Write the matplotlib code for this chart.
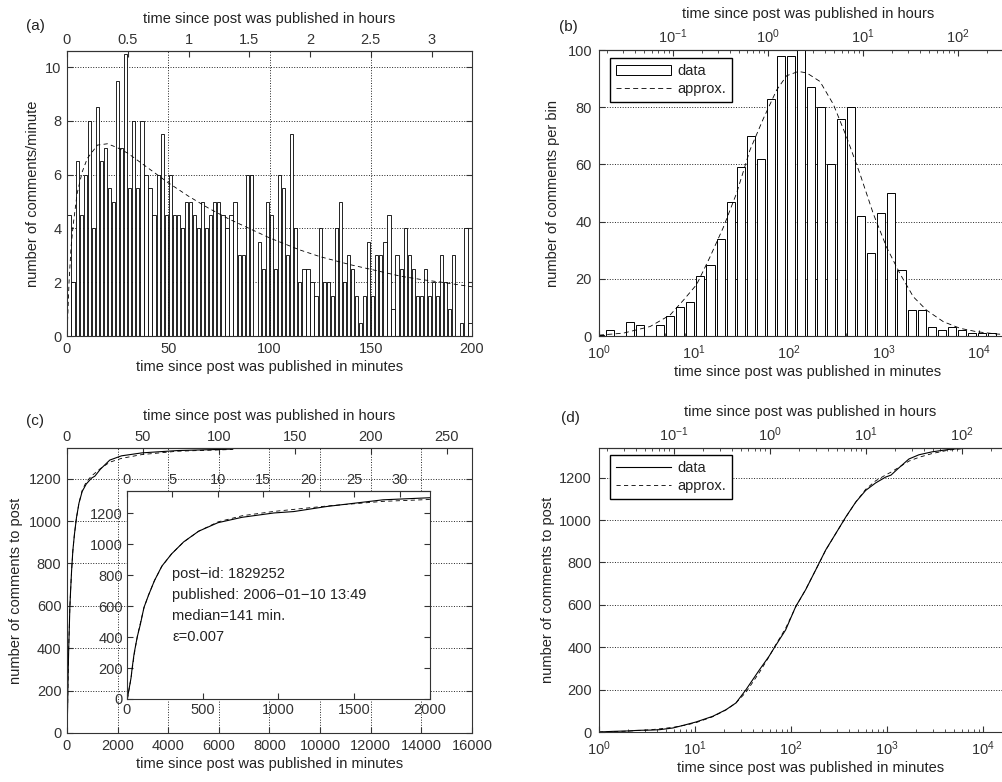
import numpy as np
import matplotlib.pyplot as plt
from matplotlib.patches import Patch
from matplotlib.lines import Line2D
from matplotlib.ticker import LogLocator, NullFormatter

plt.rcParams['font.family'] = ['Liberation Sans', 'DejaVu Sans']
plt.rcParams['font.size'] = 10.5
plt.rcParams['text.color'] = '#222222'
plt.rcParams['axes.labelcolor'] = '#222222'
plt.rcParams['xtick.color'] = '#333333'
plt.rcParams['ytick.color'] = '#333333'

# (a) comments per minute, 2-minute bins over the first 200 minutes
bin_minutes = 2
rate_per_min = [
    4.5, 2, 6.5, 4.5, 6, 8, 4, 8.5, 6.5, 7,
    5.5, 5, 9.5, 7, 10.5, 5.5, 8, 5.5, 8, 6,
    5.5, 4.5, 6, 7.5, 4.5, 6, 4.5, 4.5, 4, 5,
    5, 4.5, 4, 5, 4, 4.5, 5, 5, 4.5, 4,
    4.5, 5, 3, 3, 6, 6, 0, 3.5, 2.5, 5,
    4.5, 2.5, 6, 5.5, 3, 7.5, 4, 2, 2.5, 2.5,
    2, 1.5, 4, 2, 2, 1.5, 4, 5, 2, 3,
    2.5, 1.5, 0.5, 1.5, 3.5, 1.5, 3, 3, 3.5, 4.5,
    1, 3, 2.5, 4, 3, 2.5, 1.5, 1.5, 2.5, 1.5,
    2, 1.5, 3, 2, 1, 3, 0, 0.5, 4, 0.5,
]
approx_a_minutes = [0, 1, 2, 3, 5, 7.5, 10, 15, 20, 25, 30, 40, 50, 60, 70,
                    80, 90, 100, 115, 125, 140, 150, 165, 175, 185, 200]
approx_a_rate = [0.0, 2.0, 3.3, 4.1, 5.3, 6.1, 6.6, 7.1, 7.15, 7.0, 6.8, 6.25,
                 5.7, 5.2, 4.75, 4.35, 4.0, 3.65, 3.2, 2.95, 2.65, 2.48, 2.22,
                 2.1, 2.0, 1.83]

# (b) comments per logarithmic bin (40 bins)
log_bin_first = 0.010
log_bin_step = 0.1058
b_counts = [0.5, 2, 0, 5, 4, 0, 4, 7, 10, 12,
            21, 25, 34, 47, 59, 70, 62, 83, 98, 98,
            104, 87, 80, 60, 76, 80, 42, 29, 43, 50,
            23, 9, 9, 3, 2, 3, 2, 1, 1, 1]
approx_b_log10_min = [0.0, 0.256, 0.537, 0.747, 0.888, 1.028, 1.168, 1.309,
                      1.449, 1.589, 1.730, 1.870, 1.975, 2.098, 2.186, 2.326,
                      2.467, 2.607, 2.747, 2.888, 3.028, 3.168, 3.309, 3.449,
                      3.625, 3.800, 3.975, 4.186, 4.4]
approx_b_count = [0.3, 1, 3.3, 7.3, 12.5, 18, 27.6, 38, 50, 65, 76, 86, 91,
                  92.5, 92, 89, 81, 69.5, 56.7, 42.7, 31, 21.8, 13.7, 9, 5,
                  2.7, 1.5, 0.7, 0.3]

# (c), (d) cumulative number of comments
cum_minutes = [1.0, 1.4, 2.0, 2.6, 3.5, 4.3, 5.9, 8.1, 10.2, 15.3, 21, 26.7,
               34, 47, 59, 69, 88, 112, 142, 181, 230, 294, 374, 473, 600,
               760, 970, 1100, 1320, 1690, 2150, 2960, 4380, 6550]
cum_data = [0, 3, 5, 8, 9, 11, 19, 35, 47, 74, 105, 137, 200, 294, 357, 407,
            482, 592, 671, 765, 859, 938, 1016, 1085, 1140, 1175, 1203, 1212,
            1245, 1288, 1308, 1322, 1333, 1340]
cum_approx = [0, 2, 4, 7, 11, 15, 22, 33, 44, 72, 104, 137, 188, 282, 355,
              410, 490, 590, 672, 765, 858, 938, 1015, 1085, 1145, 1185, 1213,
              1226, 1248, 1278, 1296, 1314, 1330, 1338]
info_lines = ['post\u2212id: 1829252', 'published: 2006\u221201\u221210 13:49',
              'median=141 min.', '\u03b5=0.007']

W, H = 1003, 782
fig = plt.figure(figsize=(W / 100, H / 100), dpi=100)


def px_axes(left, top, right, bottom):
    return fig.add_axes([left / W, 1 - bottom / H, (right - left) / W, (bottom - top) / H])


def style(ax, xgrid=True):
    for s in ax.spines.values():
        s.set_color('#333333')
        s.set_linewidth(0.8)
    ax.tick_params(which='both', direction='in', top=False, right=True, pad=4)
    ax.tick_params(which='major', length=4)
    ax.tick_params(which='minor', length=2)
    ax.set_axisbelow(True)
    ax.yaxis.grid(True, linestyle=':', color='#222222', linewidth=0.7)
    if xgrid:
        ax.xaxis.grid(True, linestyle=':', color='#222222', linewidth=0.7)


def hours_axis(ax, ticks, labels=None, label=True):
    sec = ax.secondary_xaxis('top', functions=(lambda m: np.asarray(m) / 60.0,
                                               lambda h: np.asarray(h) * 60.0))
    if labels is None:
        sec.set_xticks(ticks)
    else:
        sec.set_xticks(ticks, labels)
    sec.tick_params(which='both', direction='in', pad=3)
    sec.tick_params(which='major', length=4)
    sec.tick_params(which='minor', length=2)
    sec.spines['top'].set_color('#333333')
    if label:
        sec.set_xlabel('time since post was published in hours', labelpad=7)
    return sec


xlab = 'time since post was published in minutes'

# ---- (a)
ax = px_axes(67, 51, 472, 336)
centers_a = np.arange(len(rate_per_min)) * bin_minutes + bin_minutes / 2
ax.bar(centers_a, rate_per_min, width=0.8 * bin_minutes, color='white',
       edgecolor='black', linewidth=0.6)
ax.plot(approx_a_minutes, approx_a_rate, color='black', lw=0.6, dashes=(5, 4))
ax.set_xlim(0, 200)
ax.set_ylim(0, 10.6)
ax.set_xticks(range(0, 201, 50))
ax.set_yticks(range(0, 11, 2))
style(ax)
hours_ticks_a = [0, 0.5, 1, 1.5, 2, 2.5, 3]
hours_axis(ax, hours_ticks_a, ['%g' % h for h in hours_ticks_a])
ax.set_xlabel(xlab, labelpad=3)
ax.set_ylabel('number of comments/minute', labelpad=4)

# ---- (b)
dec_b = 95.0
ax = px_axes(599, 50, 599 + 4.4 * dec_b, 336)
k = np.arange(len(b_counts))
lc = log_bin_first + log_bin_step * k
left = 10 ** (lc - 0.4 * log_bin_step)
right = 10 ** (lc + 0.4 * log_bin_step)
ax.bar(left, b_counts, width=right - left, align='edge', color='white',
       edgecolor='black', linewidth=0.7)
ax.plot(10 ** np.array(approx_b_log10_min), approx_b_count, color='black',
        lw=0.6, dashes=(6, 4))
ax.set_xscale('log')
ax.set_xlim(1, 10 ** 4.4)
ax.set_ylim(0, 100)
ax.set_yticks(range(0, 101, 20))
ax.xaxis.set_minor_locator(LogLocator(subs=np.arange(2, 10)))
ax.xaxis.set_minor_formatter(NullFormatter())
style(ax, xgrid=False)
ax.tick_params(axis='x', pad=5.5)
ax.tick_params(axis='y', pad=5)
sec = hours_axis(ax, [0.1, 1, 10, 100])
sec.xaxis.set_minor_locator(LogLocator(subs=np.arange(2, 10)))
sec.xaxis.set_minor_formatter(NullFormatter())
ax.set_xlabel(xlab, labelpad=2)
ax.set_ylabel('number of comments per bin', labelpad=5)
ax.legend(handles=[Patch(facecolor='white', edgecolor='black', lw=0.7, label='data'),
                   Line2D([], [], color='black', lw=0.6, dashes=(6, 4), label='approx.')],
          loc='upper left', bbox_to_anchor=(11 / (4.4 * dec_b), 0.972), borderaxespad=0,
          fancybox=False, framealpha=1, edgecolor='black', handlelength=3.8,
          handletextpad=0.4, borderpad=0.4, labelspacing=0.3)

# ---- (c)
ax = px_axes(67, 448, 472, 733)
ax.plot(cum_minutes, cum_data, color='black', lw=0.8)
ax.plot(cum_minutes, cum_approx, color='black', lw=0.6, dashes=(5, 4))
ax.set_xlim(0, 16000)
ax.set_ylim(0, 1345)
ax.set_xticks(range(0, 16001, 2000))
ax.set_yticks(range(0, 1201, 200))
style(ax)
hours_axis(ax, list(range(0, 251, 50)))
ax.set_xlabel(xlab, labelpad=3)
ax.set_ylabel('number of comments to post', labelpad=4)

ins = px_axes(127, 491, 430, 699)
ins.plot(cum_minutes, cum_data, color='black', lw=0.8)
ins.plot(cum_minutes, cum_approx, color='black', lw=0.6, dashes=(5, 4))
ins.set_xlim(0, 2000)
ins.set_ylim(0, 1345)
ins.set_xticks(range(0, 2001, 500))
ins.set_yticks(range(0, 1201, 200))
for s in ins.spines.values():
    s.set_color('#333333')
    s.set_linewidth(0.8)
ins.tick_params(which='both', direction='in', right=True, length=4, pad=3)
hours_axis(ins, list(range(0, 31, 5)), label=False)
for i, line in enumerate(info_lines):
    ins.text(300, 808 - 136 * i, line, va='center', ha='left')

# ---- (d)
dec_d = 96.0
ax = px_axes(599, 448, 599 + 4.4 * dec_d, 732)
ax.plot(cum_minutes, cum_data, color='black', lw=0.8, label='data')
ax.plot(cum_minutes, cum_approx, color='black', lw=0.6, dashes=(5, 4), label='approx.')
ax.set_xscale('log')
ax.set_xlim(1, 10 ** 4.4)
ax.set_ylim(0, 1340)
ax.set_yticks(range(0, 1201, 200))
ax.xaxis.set_minor_locator(LogLocator(subs=np.arange(2, 10)))
ax.xaxis.set_minor_formatter(NullFormatter())
style(ax, xgrid=False)
ax.tick_params(axis='x', pad=5.5)
ax.tick_params(axis='y', pad=5)
sec = hours_axis(ax, [0.1, 1, 10, 100])
sec.xaxis.set_minor_locator(LogLocator(subs=np.arange(2, 10)))
sec.xaxis.set_minor_formatter(NullFormatter())
ax.set_xlabel(xlab, labelpad=2)
ax.set_ylabel('number of comments to post', labelpad=3)
ax.legend(loc='upper left', bbox_to_anchor=(11 / (4.4 * dec_d), 0.975), borderaxespad=0,
          fancybox=False, framealpha=1, edgecolor='black', handlelength=3.8,
          handletextpad=0.4, borderpad=0.4, labelspacing=0.3)

# panel letters
for lab, x, y in [('(a)', 35, 26), ('(b)', 568, 27), ('(c)', 35, 421), ('(d)', 570, 418)]:
    fig.text(x / W, 1 - y / H, lab, ha='center', va='center', fontsize=11)

fig.savefig('out.png', dpi=100)
